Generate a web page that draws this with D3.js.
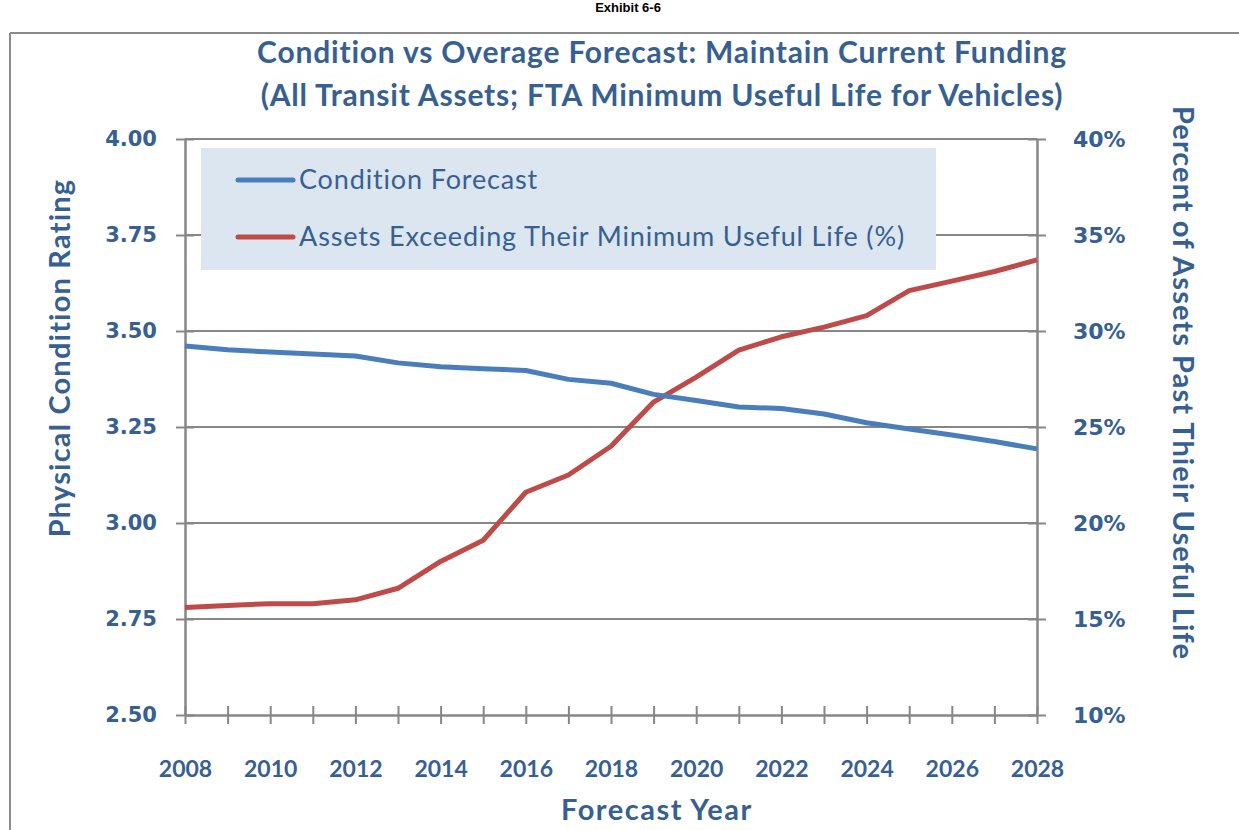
<!DOCTYPE html>
<html><head><meta charset="utf-8">
<script src="https://cdn.jsdelivr.net/npm/d3@7/dist/d3.min.js"></script>
<style>body{margin:0;background:#fff;} svg{display:block}</style>
</head><body><svg id="c" width="1239" height="830"></svg>
<script>
const years = [2008,2009,2010,2011,2012,2013,2014,2015,2016,2017,2018,2019,2020,2021,2022,2023,2024,2025,2026,2027,2028];
const conditionForecast = [3.461,3.451,3.445,3.440,3.435,3.417,3.407,3.402,3.397,3.374,3.364,3.335,3.319,3.302,3.298,3.284,3.261,3.245,3.229,3.212,3.193];
const assetsExceeding = [15.6,15.7,15.8,15.8,16.0,16.6,18.0,19.1,21.6,22.5,24.0,26.3,27.6,29.0,29.7,30.2,30.8,32.1,32.6,33.1,33.7];
const leftTicks = [2.50,2.75,3.00,3.25,3.50,3.75,4.00];
const rightTicks = [10,15,20,25,30,35,40];
const xLabelYears = [2008,2010,2012,2014,2016,2018,2020,2022,2024,2026,2028];
const seriesNames = ["Condition Forecast","Assets Exceeding Their Minimum Useful Life (%)"];
const titleLines = ["Condition vs Overage Forecast: Maintain Current Funding","(All Transit Assets; FTA Minimum Useful Life for Vehicles)"];

const TXT = "#376092", GRID = "#878787", BLUE = "#4a7ebb", RED = "#be4b48";
const svg = d3.select("#c");
const x = d3.scaleLinear().domain([2008,2028]).range([185,1037]);
const yL = d3.scaleLinear().domain([2.5,4]).range([715,139]);
const yR = d3.scaleLinear().domain([10,40]).range([715,139]);

// frame
svg.append("line").attr("x1",10).attr("y1",33).attr("x2",1239).attr("y2",33).attr("stroke","#8a8a8a").attr("stroke-width",2);
svg.append("line").attr("x1",10).attr("y1",33).attr("x2",10).attr("y2",830).attr("stroke","#8a8a8a").attr("stroke-width",2);
svg.append("text").attr("x",628).attr("y",12).attr("text-anchor","middle").attr("font-family","Liberation Sans, Arial").attr("font-weight","bold").attr("font-size",13).attr("fill","#000").text("Exhibit 6-6");

// title
svg.selectAll("text.title").data(titleLines).join("text").attr("class","title")
  .attr("x",662).attr("y",(d,i)=>63+i*43).attr("text-anchor","middle")
  .attr("font-family","Lato").attr("font-weight","bold").attr("font-size",30).attr("letter-spacing",0.8).attr("fill",TXT).text(d=>d);

// gridlines
svg.append("g").selectAll("line").data(leftTicks.slice(1)).join("line")
  .attr("x1",185).attr("x2",1037).attr("y1",d=>yL(d)).attr("y2",d=>yL(d))
  .attr("stroke",GRID).attr("stroke-width",2);

// legend
svg.append("rect").attr("x",201).attr("y",148).attr("width",735).attr("height",122).attr("fill","#dce6f1");
const lg = svg.append("g").selectAll("g").data(seriesNames).join("g").attr("transform",(d,i)=>`translate(0,${180+i*57})`);
lg.append("line").attr("x1",238).attr("x2",293).attr("stroke",(d,i)=>i?RED:BLUE).attr("stroke-width",5).attr("stroke-linecap","round");
lg.append("text").attr("x",299).attr("y",9).attr("font-family","Lato").attr("font-size",27).attr("letter-spacing",0.85).attr("fill",TXT).text(d=>d);

function styleAxis(g){
  g.select(".domain").attr("stroke",GRID).attr("stroke-width",2.5);
  g.selectAll(".tick line").attr("stroke",GRID).attr("stroke-width",2);
}
// left axis
const gl = svg.append("g").attr("transform","translate(185,0)")
  .call(d3.axisLeft(yL).tickValues(leftTicks).tickFormat(d3.format(".2f")).tickSizeInner(9).tickSizeOuter(0).tickPadding(19));
styleAxis(gl);
gl.selectAll(".tick line").attr("x1",9);
gl.selectAll(".tick text").attr("font-family","DejaVu Sans").attr("font-weight","bold").attr("font-size",21).attr("fill",TXT);

// right axis
const gr = svg.append("g").attr("transform","translate(1037,0)")
  .call(d3.axisRight(yR).tickValues(rightTicks).tickFormat(d=>d+"%").tickSizeInner(9).tickSizeOuter(0).tickPadding(27));
styleAxis(gr);
gr.selectAll(".tick line").attr("x1",-9);
gr.selectAll(".tick text").attr("font-family","DejaVu Sans").attr("font-weight","bold").attr("font-size",22).attr("fill",TXT);

// bottom axis
const gb = svg.append("g").attr("transform","translate(0,715)")
  .call(d3.axisBottom(x).tickValues(years).tickFormat(d=>xLabelYears.includes(d)?String(d):"").tickSizeInner(9).tickSizeOuter(0).tickPadding(37));
styleAxis(gb);
gb.selectAll(".tick line").attr("y1",-9);
gb.selectAll(".tick text").attr("font-family","Lato").attr("font-weight","bold").attr("font-size",23).attr("fill",TXT);

// axis titles
svg.append("text").attr("transform","translate(70,358) rotate(-90)").attr("text-anchor","middle")
  .attr("font-family","Lato").attr("font-weight","bold").attr("font-size",29).attr("letter-spacing",1.2).attr("fill",TXT).text("Physical Condition Rating");
svg.append("text").attr("transform","translate(1173,383) rotate(90)").attr("text-anchor","middle")
  .attr("font-family","Lato").attr("font-weight","bold").attr("font-size",29).attr("letter-spacing",1.05).attr("fill",TXT).text("Percent of Assets Past Thieir Useful Life");
svg.append("text").attr("x",657).attr("y",820).attr("text-anchor","middle")
  .attr("font-family","Lato").attr("font-weight","bold").attr("font-size",29).attr("letter-spacing",1.5).attr("fill",TXT).text("Forecast Year");

// series
const lineL = d3.line().x((d,i)=>x(years[i])).y(d=>yL(d));
const lineR = d3.line().x((d,i)=>x(years[i])).y(d=>yR(d));
svg.append("path").datum(assetsExceeding).attr("d",lineR).attr("fill","none").attr("stroke",RED).attr("stroke-width",5).attr("stroke-linejoin","round");
svg.append("path").datum(conditionForecast).attr("d",lineL).attr("fill","none").attr("stroke",BLUE).attr("stroke-width",5).attr("stroke-linejoin","round");
</script></body></html>
